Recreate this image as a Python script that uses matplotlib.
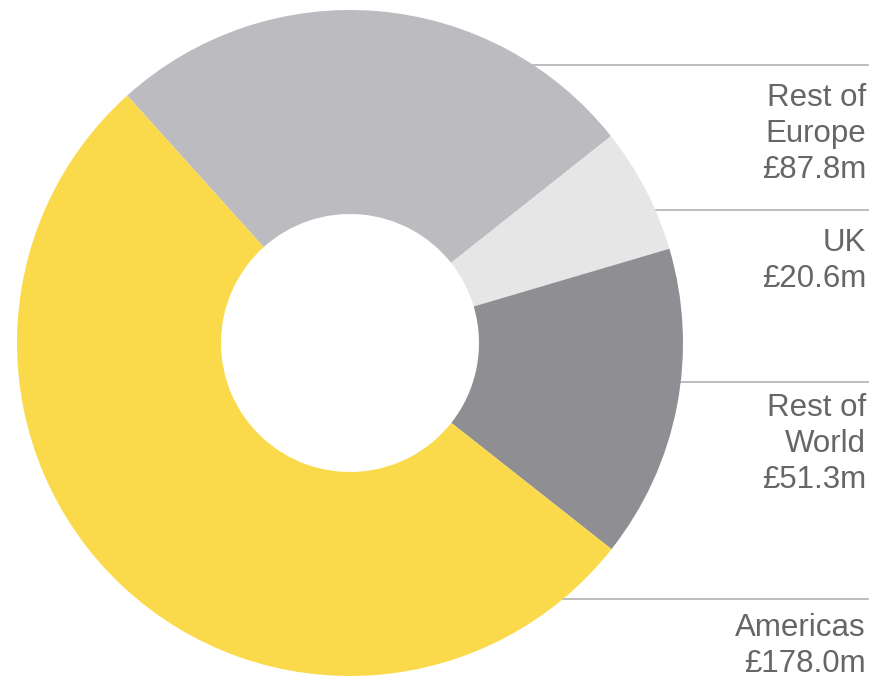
import numpy as np
import matplotlib.pyplot as plt

plt.rcParams['font.family'] = ['Liberation Sans', 'DejaVu Sans']

# Revenue by region (£m)
regions = ["Rest of\nEurope", "UK", "Rest of\nWorld", "Americas"]
revenue = [87.8, 20.6, 51.3, 178.0]
colours = ["#bcbcc0", "#e6e6e7", "#8e8e93", "#fada4a"]

# leader line heights and last-line text baselines (pixels from top)
line_y = [65, 210, 382, 599]
text_y = [178, 287, 488, 672]

W, H = 877, 684
cx, cy, R = 350, H - 343, 333
hole = 129

fig = plt.figure(figsize=(W / 100, H / 100), dpi=100)
ax = fig.add_axes([0, 0, 1, 1])

ax.pie(revenue, colors=colours, startangle=132, counterclock=False,
       center=(cx, cy), radius=R,
       wedgeprops=dict(width=R - hole, linewidth=0))

ax.set_xlim(0, W)
ax.set_ylim(0, H)
ax.set_aspect('equal')
ax.axis('off')

for name, val, ly, ty in zip(regions, revenue, line_y, text_y):
    y = H - ly
    dy = y - cy
    x0 = cx + np.sqrt(max(R ** 2 - dy ** 2, 0))
    ax.plot([x0, 868], [y, y], color="#b8b8b8", lw=1.3, zorder=0)
    ax.text(866, H - ty, f"{name}\n£{val:.1f}m", ha="right", va="baseline",
            fontsize=22.5, color="#666666", linespacing=1.26)

fig.savefig("out.png", dpi=100)
